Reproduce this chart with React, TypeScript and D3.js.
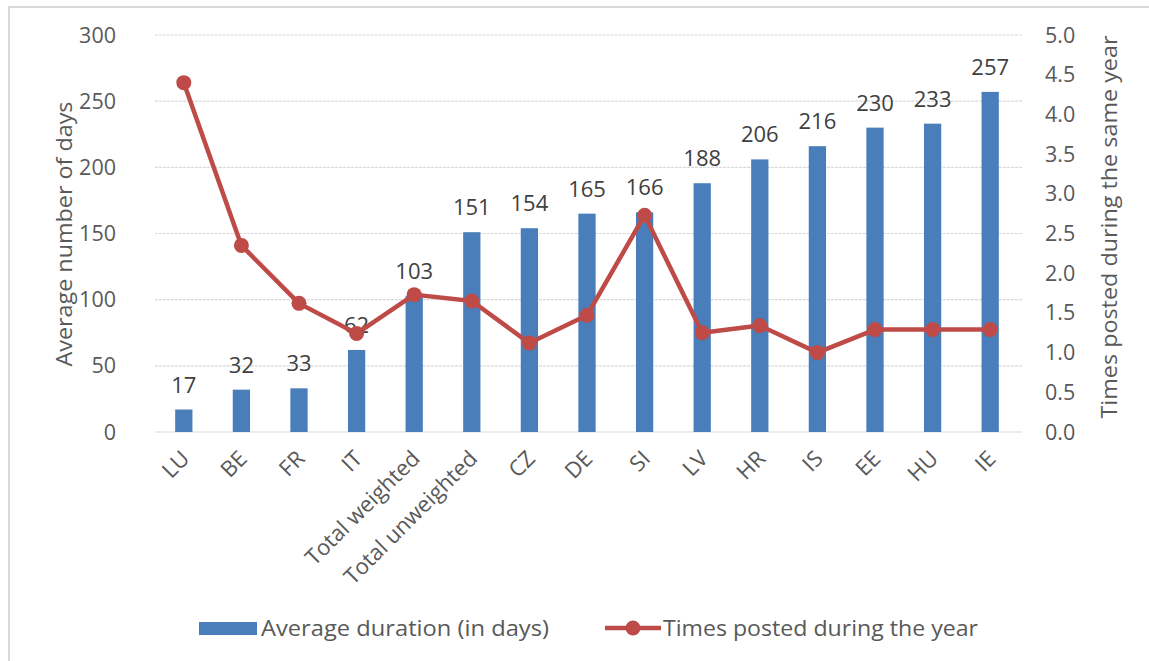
import React from "react";
import * as d3 from "d3";

const categories = ["LU", "BE", "FR", "IT", "Total weighted", "Total unweighted", "CZ", "DE", "SI", "LV", "HR", "IS", "EE", "HU", "IE"];
const avgDuration = [17, 32, 33, 62, 103, 151, 154, 165, 166, 188, 206, 216, 230, 233, 257];
const timesPosted = [4.4, 2.35, 1.62, 1.24, 1.73, 1.65, 1.12, 1.47, 2.73, 1.25, 1.34, 1.0, 1.29, 1.29, 1.29];
const leftTicks = [0, 50, 100, 150, 200, 250, 300];
const rightTicks = [0, 0.5, 1, 1.5, 2, 2.5, 3, 3.5, 4, 4.5, 5];

const W = 1149;
const H = 661;
const plot = { left: 155, right: 1019, top: 35, bottom: 432 };
const font = "'Open Sans', 'Noto Sans', sans-serif";
const textColor = "#595959";
const barColor = "#4a7ebb";
const lineColor = "#be4b48";

export default function App() {
  const x = d3.scaleBand<string>().domain(categories).range([plot.left, plot.right]).paddingInner(0.7).paddingOuter(0.35);
  const xc = (c: string) => (x(c) as number) + x.bandwidth() / 2;
  const yL = d3.scaleLinear().domain([0, 300]).range([plot.bottom, plot.top]);
  const yR = d3.scaleLinear().domain([0, 5]).range([plot.bottom, plot.top]);
  const line = d3
    .line<number>()
    .x((_, i) => xc(categories[i]))
    .y((d) => yR(d));

  return (
    <svg width={W} height={H} style={{ position: "absolute", left: 0, top: 0, background: "#fff" }}>
      <rect x={9} y={7} width={1300} height={800} fill="#fff" stroke="#d9d9d9" strokeWidth={2} />
      {/* gridlines */}
      {leftTicks.map((t) => (
        <line
          key={"g" + t}
          x1={plot.left}
          x2={plot.right + 3}
          y1={yL(t)}
          y2={yL(t)}
          stroke="#d9d9d9"
          strokeWidth={1.2}
          strokeDasharray={t === 0 ? undefined : "3,1"}
        />
      ))}
      {/* left ticks */}
      {leftTicks.map((t) => (
        <text key={"l" + t} x={116} y={yL(t)} dy="0.35em" textAnchor="end" fontFamily={font} fontSize={21.5} fill={textColor}>
          {t}
        </text>
      ))}
      {/* right ticks */}
      {rightTicks.map((t) => (
        <text key={"r" + t} x={1045} y={yR(t)} dy="0.35em" textAnchor="start" fontFamily={font} fontSize={21.5} fill={textColor}>
          {d3.format(".1f")(t)}
        </text>
      ))}
      {/* axis titles */}
      <text
        transform={`translate(72,234) rotate(-90)`}
        textAnchor="middle"
        fontFamily={font}
        fontSize={21}
        fill={textColor}
        textLength={265}
        lengthAdjust="spacingAndGlyphs"
      >
        Average number of days
      </text>
      <text
        transform={`translate(1117,227) rotate(-90)`}
        textAnchor="middle"
        fontFamily={font}
        fontSize={21}
        fill={textColor}
        textLength={383}
        lengthAdjust="spacingAndGlyphs"
      >
        Times posted during the same year
      </text>
      {/* bars */}
      {categories.map((c, i) => (
        <rect key={"b" + c} x={x(c)} y={yL(avgDuration[i])} width={x.bandwidth()} height={yL(0) - yL(avgDuration[i])} fill={barColor} />
      ))}
      {/* bar labels */}
      {categories.map((c, i) => (
        <text key={"bl" + c} x={xc(c)} y={yL(avgDuration[i]) - 17} textAnchor="middle" fontFamily={font} fontSize={22} fill="#404040">
          {avgDuration[i]}
        </text>
      ))}
      {/* line */}
      <path d={line(timesPosted) as string} fill="none" stroke={lineColor} strokeWidth={4.5} strokeLinejoin="round" />
      {timesPosted.map((v, i) => (
        <circle key={"m" + i} cx={xc(categories[i])} cy={yR(v)} r={7.5} fill={lineColor} />
      ))}
      {/* x labels */}
      {categories.map((c) => (
        <text
          key={"x" + c}
          transform={`translate(${xc(c) + 7},${plot.bottom + 28}) rotate(-45)`}
          textAnchor="end"
          fontFamily={font}
          fontSize={22}
          fill={textColor}
        >
          {c}
        </text>
      ))}
      {/* legend */}
      <rect x={199} y={622} width={58} height={13} fill={barColor} />
      <text x={261} y={636} fontFamily="'Liberation Sans Narrow', 'Open Sans', sans-serif" fontSize={21} fill={textColor} textLength={288} lengthAdjust="spacingAndGlyphs">
        Average duration (in days)
      </text>
      <line x1={605} x2={661} y1={628} y2={628} stroke={lineColor} strokeWidth={4.5} />
      <circle cx={633} cy={628} r={7.5} fill={lineColor} />
      <text x={663} y={636} fontFamily="'Liberation Sans Narrow', 'Open Sans', sans-serif" fontSize={21} fill={textColor} textLength={315} lengthAdjust="spacingAndGlyphs">
        Times posted during the year
      </text>
    </svg>
  );
}
